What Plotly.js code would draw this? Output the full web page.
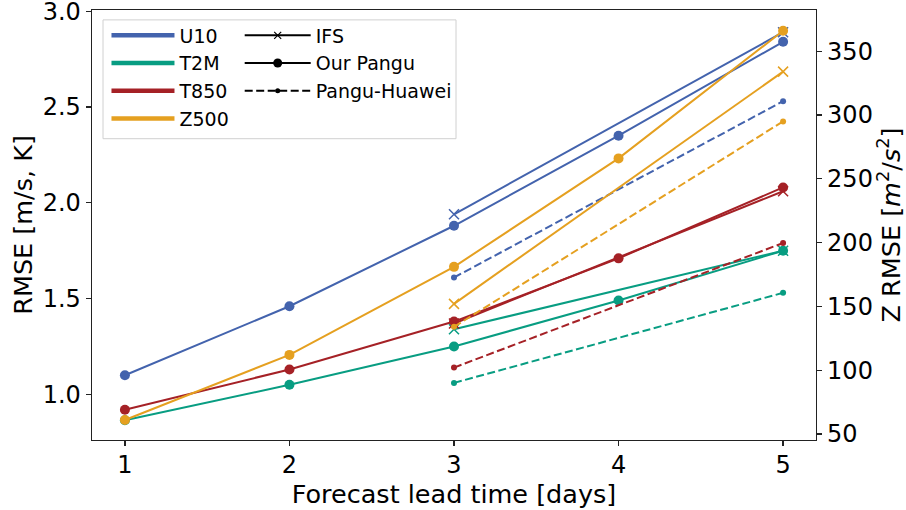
<!DOCTYPE html>
<html>
<head>
<meta charset="utf-8">
<script src="https://cdn.plot.ly/plotly-3.0.1.min.js"></script>
<style>html,body{margin:0;padding:0;background:#fff;}#chart{width:906px;height:510px;}</style>
</head>
<body>
<div id="chart"></div>
<script>
// ---- data ----
const days = [1, 2, 3, 4, 5];
const daysShort = [3, 5];

const u10Pangu   = [1.10, 1.46, 1.88, 2.35, 2.84];
const u10IFS     = [1.94, 2.89];
const u10Huawei  = [1.61, 2.53];

const t2mPangu   = [0.865, 1.05, 1.25, 1.49, 1.75];
const t2mIFS     = [1.34, 1.75];
const t2mHuawei  = [1.06, 1.53];

const t850Pangu  = [0.92, 1.13, 1.38, 1.71, 2.08];
const t850IFS    = [1.37, 2.06];
const t850Huawei = [1.14, 1.79];

const z500Pangu  = [61, 112, 181, 266, 366];
const z500IFS    = [152, 334];
const z500Huawei = [134, 295];

const varNames = ['U10', 'T2M', 'T850', 'Z500'];
const modelNames = ['IFS', 'Our Pangu', 'Pangu-Huawei'];
const xTicks = [1, 2, 3, 4, 5];
const yTicks = [1.0, 1.5, 2.0, 2.5, 3.0];
const y2Ticks = [50, 100, 150, 200, 250, 300, 350];

// ---- styles ----
const colors = {U10: '#4363ad', T2M: '#089d82', T850: '#a52126', Z500: '#e5a020'};
const FONT = 'DejaVu Sans, sans-serif';
const TICK = 24, TITLE = 25.5, LEG = 19;

function series(name, model, x, y, axis) {
  const c = colors[name];
  const t = {x: x, y: y, type: 'scatter', mode: 'lines+markers', showlegend: false,
             yaxis: axis, line: {color: c, width: 2}, hoverinfo: 'x+y+name', name: name + ' ' + model};
  if (model === 'IFS') {
    t.marker = {symbol: 'x-thin-open', size: 10, color: c, line: {color: c, width: 1.5}};
  } else if (model === 'Our Pangu') {
    t.marker = {symbol: 'circle', size: 10, color: c};
  } else {
    t.line.dash = '8px,3.5px';
    t.marker = {symbol: 'circle', size: 6, color: c};
  }
  return t;
}

const traces = [
  series('U10', 'Our Pangu', days, u10Pangu, 'y'),
  series('U10', 'IFS', daysShort, u10IFS, 'y'),
  series('U10', 'Pangu-Huawei', daysShort, u10Huawei, 'y'),
  series('T2M', 'Our Pangu', days, t2mPangu, 'y'),
  series('T2M', 'IFS', daysShort, t2mIFS, 'y'),
  series('T2M', 'Pangu-Huawei', daysShort, t2mHuawei, 'y'),
  series('T850', 'Our Pangu', days, t850Pangu, 'y'),
  series('T850', 'IFS', daysShort, t850IFS, 'y'),
  series('T850', 'Pangu-Huawei', daysShort, t850Huawei, 'y'),
  series('Z500', 'Our Pangu', days, z500Pangu, 'y2'),
  series('Z500', 'IFS', daysShort, z500IFS, 'y2'),
  series('Z500', 'Pangu-Huawei', daysShort, z500Huawei, 'y2'),
];

// legend entries: colours (legend) and model styles (legend2)
varNames.forEach((v, i) => {
  traces.push({x: [null], y: [null], type: 'scatter', mode: 'lines', name: v,
               legend: 'legend', legendgroup: 'v' + i, line: {color: colors[v], width: 4.5}});
});
modelNames.forEach((m, i) => {
  const t = {x: [null], y: [null], type: 'scatter', mode: 'lines+markers', name: m,
             legend: 'legend2', legendgroup: 'm' + i, line: {color: '#000', width: 2}};
  if (m === 'IFS') t.marker = {symbol: 'x-thin-open', size: 7, color: '#000', line: {color: '#000', width: 1.2}};
  else if (m === 'Our Pangu') t.marker = {symbol: 'circle', size: 9, color: '#000'};
  else { t.line.dash = '8px,3.5px'; t.marker = {symbol: 'circle', size: 5, color: '#000'}; }
  traces.push(t);
});

const axisCommon = {
  showline: true, linecolor: '#222', linewidth: 1.3, ticks: 'outside', ticklen: 5, tickwidth: 1.2,
  tickcolor: '#222', showgrid: false, zeroline: false, ticklabeloverflow: 'allow',
  tickfont: {family: FONT, size: TICK, color: '#000'}
};

const layout = {
  width: 906, height: 510,
  margin: {l: 92, r: 90, t: 10, b: 70},
  paper_bgcolor: '#fff', plot_bgcolor: '#fff',
  font: {family: FONT, color: '#000'},
  xaxis: Object.assign({}, axisCommon, {
    range: [0.8, 5.2], tickvals: xTicks, mirror: true, ticklabelstandoff: -2,
    title: {text: 'Forecast lead time [days]', font: {family: FONT, size: TITLE}, standoff: 0}
  }),
  yaxis: Object.assign({}, axisCommon, {
    range: [0.762, 3.006], tickvals: yTicks, tickformat: '.1f', mirror: true,
    title: {text: 'RMSE [m/s, K]', font: {family: FONT, size: TITLE}, standoff: 2}
  }),
  yaxis2: Object.assign({}, axisCommon, {
    overlaying: 'y', side: 'right', range: [45.3, 382.3], tickvals: y2Ticks,
    title: {text: 'Z RMSE [<i>m</i><sup>2</sup>/<i>s</i><sup>2</sup>]', font: {family: FONT, size: TITLE}, standoff: 8}
  }),
  legend: {
    x: 0.02, y: 0.985, xanchor: 'left', yanchor: 'top', orientation: 'v',
    bgcolor: 'rgba(0,0,0,0)', borderwidth: 0, itemwidth: 63, tracegroupgap: 0,
    font: {family: FONT, size: LEG, color: '#000'}
  },
  legend2: {
    x: 0.204, y: 0.985, xanchor: 'left', yanchor: 'top', orientation: 'v',
    bgcolor: 'rgba(0,0,0,0)', borderwidth: 0, itemwidth: 66, tracegroupgap: 0,
    font: {family: FONT, size: LEG, color: '#000'}
  },
  shapes: [{
    type: 'rect', xref: 'paper', yref: 'paper', x0: 0.0152, x1: 0.5028, y0: 0.7007, y1: 0.977,
    line: {color: '#d0d0d0', width: 1}, fillcolor: 'rgba(255,255,255,0.8)', layer: 'below'
  }]
};

Plotly.newPlot('chart', traces, layout, {displayModeBar: false, staticPlot: true});
</script>
</body>
</html>
